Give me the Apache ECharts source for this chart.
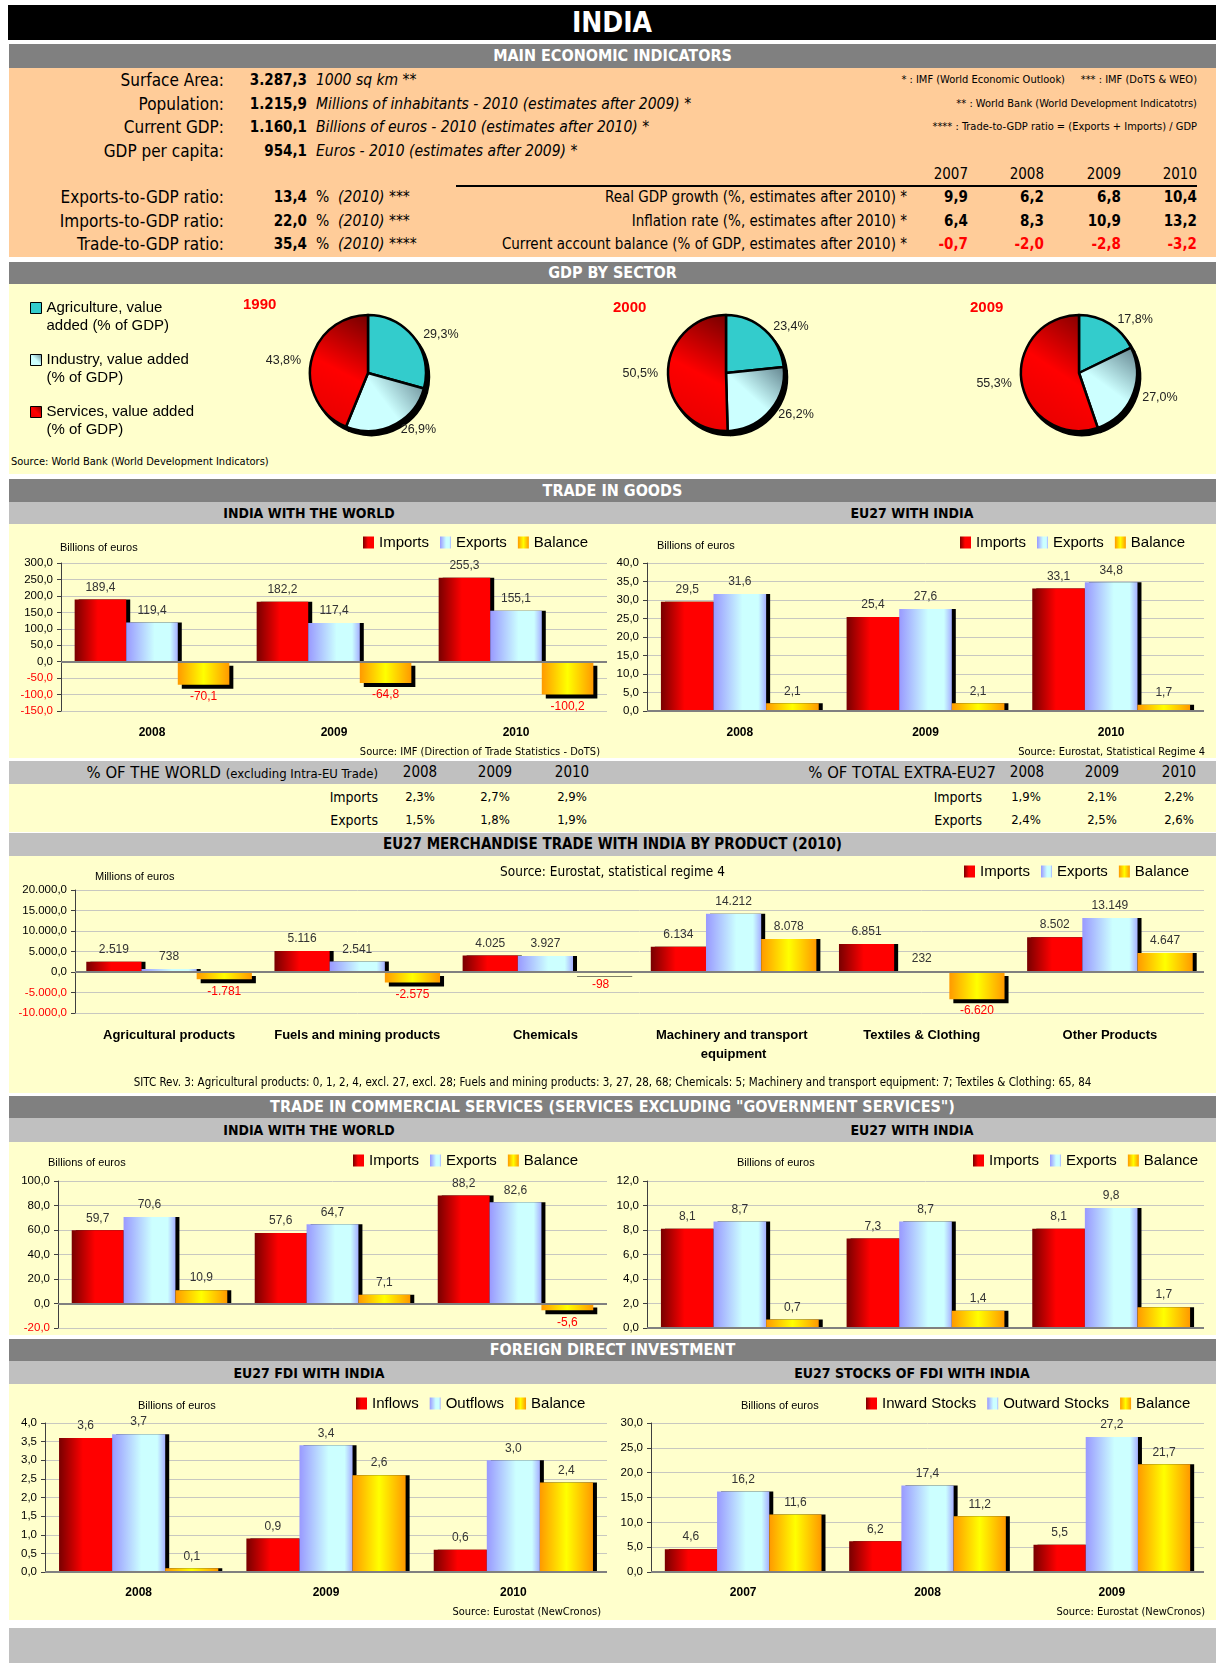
<!DOCTYPE html>
<html>
<head>
<meta charset="utf-8">
<title>India</title>
<script src="https://cdn.jsdelivr.net/npm/echarts@6.0.0/dist/echarts.min.js"></script>
<style>
  body { margin: 0; width: 1222px; height: 1663px; position: relative; overflow: hidden; background: #fff;
         font-family: "DejaVu Sans Condensed", "DejaVu Sans", sans-serif; color: #000; }
  div { position: absolute; white-space: nowrap; }
  .box { left: 9px; width: 1207px; }
  .dark { background: #808080; color: #fff; font-weight: bold; font-size: 16px; text-align: center; }
  .light { background: #c0c0c0; }
  .peach { background: #ffcc99; }
  .yellow { background: #ffffcc; }
  .lab { right: 998px; font-size: 17px; line-height: 22px; text-align: right; }
  .val { right: 915px; font-size: 15px; line-height: 22px; font-weight: bold; text-align: right; }
  .unit { left: 316px; font-size: 15.5px; line-height: 22px; font-style: italic; }
  .note { right: 25px; font-size: 11px; line-height: 22px; text-align: right; }
  .col { width: 60px; font-size: 15px; line-height: 22px; text-align: right; }
  .b { font-weight: bold; }
  .red { color: #ff0000; }
  .rlab { right: 315px; font-size: 15px; line-height: 22px; text-align: right; }
  .sub { font-weight: bold; font-size: 14px; text-align: center; line-height: 22px; width: 600px; }
  .tc { width: 60px; text-align: center; line-height: 22px; }
</style>
</head>
<body>
<div style="left:8px;top:5px;width:1208px;height:35px;background:#000;color:#fff;font-weight:bold;font-size:28px;line-height:35px;text-align:center">INDIA</div>

<div class="box dark" style="top:44px;height:24px;line-height:24px">MAIN ECONOMIC INDICATORS</div>
<div class="box peach" style="top:68px;height:189px"></div>

<div class="lab" style="top:69px">Surface Area:</div>
<div class="lab" style="top:93px">Population:</div>
<div class="lab" style="top:116px">Current GDP:</div>
<div class="lab" style="top:140px">GDP per capita:</div>
<div class="lab" style="top:186px">Exports-to-GDP ratio:</div>
<div class="lab" style="top:210px">Imports-to-GDP ratio:</div>
<div class="lab" style="top:233px">Trade-to-GDP ratio:</div>

<div class="val" style="top:69px">3.287,3</div>
<div class="val" style="top:93px">1.215,9</div>
<div class="val" style="top:116px">1.160,1</div>
<div class="val" style="top:140px">954,1</div>
<div class="val" style="top:186px">13,4</div>
<div class="val" style="top:210px">22,0</div>
<div class="val" style="top:233px">35,4</div>

<div class="unit" style="top:69px">1000 sq km **</div>
<div class="unit" style="top:93px">Millions of inhabitants - 2010 (estimates after 2009) *</div>
<div class="unit" style="top:116px">Billions of euros - 2010 (estimates after 2010) *</div>
<div class="unit" style="top:140px">Euros - 2010 (estimates after 2009) *</div>
<div class="unit" style="top:186px"><span style="font-style:normal">%</span>&nbsp; (2010) ***</div>
<div class="unit" style="top:210px"><span style="font-style:normal">%</span>&nbsp; (2010) ***</div>
<div class="unit" style="top:233px"><span style="font-style:normal">%</span>&nbsp; (2010) ****</div>

<div class="note" style="top:69px">* : IMF (World Economic Outlook) &nbsp;&nbsp;&nbsp; *** : IMF (DoTS &amp; WEO)</div>
<div class="note" style="top:93px">** : World Bank (World Development Indicatotrs)</div>
<div class="note" style="top:116px">**** : Trade-to-GDP ratio = (Exports + Imports) / GDP</div>

<div class="col" style="left:908px;top:163px">2007</div>
<div class="col" style="left:984px;top:163px">2008</div>
<div class="col" style="left:1061px;top:163px">2009</div>
<div class="col" style="left:1137px;top:163px">2010</div>
<div style="left:456px;top:185px;width:741px;height:2px;background:#000"></div>

<div class="rlab" style="top:186px">Real GDP growth (%, estimates after 2010) *</div>
<div class="rlab" style="top:210px">Inflation rate (%, estimates after 2010) *</div>
<div class="rlab" style="top:233px">Current account balance (% of GDP, estimates after 2010) *</div>

<div class="col b" style="left:908px;top:186px">9,9</div>
<div class="col b" style="left:984px;top:186px">6,2</div>
<div class="col b" style="left:1061px;top:186px">6,8</div>
<div class="col b" style="left:1137px;top:186px">10,4</div>
<div class="col b" style="left:908px;top:210px">6,4</div>
<div class="col b" style="left:984px;top:210px">8,3</div>
<div class="col b" style="left:1061px;top:210px">10,9</div>
<div class="col b" style="left:1137px;top:210px">13,2</div>
<div class="col b red" style="left:908px;top:233px">-0,7</div>
<div class="col b red" style="left:984px;top:233px">-2,0</div>
<div class="col b red" style="left:1061px;top:233px">-2,8</div>
<div class="col b red" style="left:1137px;top:233px">-3,2</div>

<div class="box dark" style="top:262px;height:22px;line-height:22px">GDP BY SECTOR</div>
<div class="box yellow" style="top:284px;height:190px"></div>
<div style="left:11px;top:455px;font-size:11px;line-height:14px">Source: World Bank (World Development Indicators)</div>

<div class="box dark" style="top:479px;height:23px;line-height:23px">TRADE IN GOODS</div>
<div class="box light" style="top:502px;height:22px"></div>
<div class="sub" style="left:9px;top:502px">INDIA WITH THE WORLD</div>
<div class="sub" style="left:612px;top:502px">EU27 WITH INDIA</div>
<div class="box yellow" style="top:524px;height:234px"></div>

<div class="box light" style="top:761px;height:23px"></div>
<div style="right:844px;top:761px;line-height:23px;font-size:16.5px">% OF THE WORLD <span style="font-size:13px">(excluding Intra-EU Trade)</span></div>
<div class="tc" style="left:390px;top:761px;font-size:15px">2008</div>
<div class="tc" style="left:465px;top:761px;font-size:15px">2009</div>
<div class="tc" style="left:542px;top:761px;font-size:15px">2010</div>
<div style="right:226px;top:761px;line-height:23px;font-size:16.5px">% OF TOTAL EXTRA-EU27</div>
<div class="tc" style="left:997px;top:761px;font-size:15px">2008</div>
<div class="tc" style="left:1072px;top:761px;font-size:15px">2009</div>
<div class="tc" style="left:1149px;top:761px;font-size:15px">2010</div>
<div class="box yellow" style="top:784px;height:48px"></div>
<div style="right:844px;top:786px;line-height:22px;font-size:14px">Imports</div>
<div style="right:844px;top:809px;line-height:22px;font-size:14px">Exports</div>
<div class="tc" style="left:390px;top:786px;font-size:13px">2,3%</div>
<div class="tc" style="left:465px;top:786px;font-size:13px">2,7%</div>
<div class="tc" style="left:542px;top:786px;font-size:13px">2,9%</div>
<div class="tc" style="left:390px;top:809px;font-size:13px">1,5%</div>
<div class="tc" style="left:465px;top:809px;font-size:13px">1,8%</div>
<div class="tc" style="left:542px;top:809px;font-size:13px">1,9%</div>
<div style="right:240px;top:786px;line-height:22px;font-size:14px">Imports</div>
<div style="right:240px;top:809px;line-height:22px;font-size:14px">Exports</div>
<div class="tc" style="left:996px;top:786px;font-size:13px">1,9%</div>
<div class="tc" style="left:1072px;top:786px;font-size:13px">2,1%</div>
<div class="tc" style="left:1149px;top:786px;font-size:13px">2,2%</div>
<div class="tc" style="left:996px;top:809px;font-size:13px">2,4%</div>
<div class="tc" style="left:1072px;top:809px;font-size:13px">2,5%</div>
<div class="tc" style="left:1149px;top:809px;font-size:13px">2,6%</div>

<div class="box light" style="top:833px;height:23px;line-height:23px;text-align:center;font-weight:bold;font-size:15px">EU27 MERCHANDISE TRADE WITH INDIA BY PRODUCT (2010)</div>
<div class="box yellow" style="top:856px;height:237px"></div>

<div class="box dark" style="top:1096px;height:22px;line-height:22px">TRADE IN COMMERCIAL SERVICES (SERVICES EXCLUDING "GOVERNMENT SERVICES")</div>
<div class="box light" style="top:1118px;height:24px"></div>
<div class="sub" style="left:9px;top:1119px">INDIA WITH THE WORLD</div>
<div class="sub" style="left:612px;top:1119px">EU27 WITH INDIA</div>
<div class="box yellow" style="top:1142px;height:193px"></div>

<div class="box dark" style="top:1339px;height:22px;line-height:22px">FOREIGN DIRECT INVESTMENT</div>
<div class="box light" style="top:1361px;height:23px"></div>
<div class="sub" style="left:9px;top:1362px">EU27 FDI WITH INDIA</div>
<div class="sub" style="left:612px;top:1362px">EU27 STOCKS OF FDI WITH INDIA</div>
<div class="box yellow" style="top:1384px;height:236px"></div>
<div class="box light" style="top:1628px;height:35px"></div>

<div id="pies" style="left:9px;top:274px;width:1207px;height:200px"></div>
<div id="goodsWorld" style="left:9px;top:524px;width:603px;height:234px"></div>
<div id="goodsEu" style="left:612px;top:524px;width:604px;height:234px"></div>
<div id="products" style="left:9px;top:856px;width:1207px;height:237px"></div>
<div id="servWorld" style="left:9px;top:1142px;width:603px;height:193px"></div>
<div id="servEu" style="left:612px;top:1142px;width:604px;height:193px"></div>
<div id="fdi" style="left:9px;top:1384px;width:603px;height:236px"></div>
<div id="stocks" style="left:612px;top:1384px;width:604px;height:236px"></div>

<script>
// values
const sectors = ['Agriculture, value added (% of GDP)', 'Industry, value added (% of GDP)', 'Services, value added (% of GDP)']
const pieYears = ['1990', '2000', '2009']
const share1990 = [29.3, 26.9, 43.8]
const share2000 = [23.4, 26.2, 50.5]
const share2009 = [17.8, 27.0, 55.3]

const tradeNames = ['Imports', 'Exports', 'Balance']
const goodsYears = ['2008', '2009', '2010']
const goodsWorldImports = [189.4, 182.2, 255.3]
const goodsWorldExports = [119.4, 117.4, 155.1]
const goodsWorldBalance = [-70.1, -64.8, -100.2]
const goodsEuImports = [29.5, 25.4, 33.1]
const goodsEuExports = [31.6, 27.6, 34.8]
const goodsEuBalance = [2.1, 2.1, 1.7]

const products = ['Agricultural products', 'Fuels and mining products', 'Chemicals', 'Machinery and transport equipment', 'Textiles & Clothing', 'Other Products']
const productImports = [2519, 5116, 4025, 6134, 6851, 8502]
const productExports = [738, 2541, 3927, 14212, 232, 13149]
const productBalance = [-1781, -2575, -98, 8078, -6620, 4647]

const servYears = ['2008', '2009', '2010']
const servWorldImports = [59.7, 57.6, 88.2]
const servWorldExports = [70.6, 64.7, 82.6]
const servWorldBalance = [10.9, 7.1, -5.6]
const servEuImports = [8.1, 7.3, 8.1]
const servEuExports = [8.7, 8.7, 9.8]
const servEuBalance = [0.7, 1.4, 1.7]

const fdiNames = ['Inflows', 'Outflows', 'Balance']
const fdiYears = ['2008', '2009', '2010']
const fdiInflows = [3.6, 0.9, 0.6]
const fdiOutflows = [3.7, 3.4, 3.0]
const fdiBalance = [0.1, 2.6, 2.4]

const stockNames = ['Inward Stocks', 'Outward Stocks', 'Balance']
const stockYears = ['2007', '2008', '2009']
const stockInward = [4.6, 6.2, 5.5]
const stockOutward = [16.2, 17.4, 27.2]
const stockBalance = [11.6, 11.2, 21.7]

// 1.234,5 style numbers
function fmt(v, dec) {
	const parts = Math.abs(v).toFixed(dec).split('.')
	const int = parts[0].replace(/\B(?=(\d{3})+(?!\d))/g, '.')
	return (v < 0 ? '-' : '') + int + (dec ? ',' + parts[1] : '')
}

function lin(x, y, x2, y2, stops) {
	return { type: 'linear', x: x, y: y, x2: x2, y2: y2,
		colorStops: stops.map(s => ({ offset: s[0], color: s[1] })) }
}

const barColors = [
	lin(0, 0, 1, 0, [[0, '#780000'], [0.45, '#ff0000'], [1, '#ff0000']]),
	lin(0, 0, 1, 0, [[0, '#9999ff'], [0.55, '#ccffff'], [0.85, '#ccffff'], [1, '#a6b0ff']]),
	lin(0, 0, 1, 0, [[0, '#ff9900'], [0.5, '#ffff00'], [1, '#ff9900']])
]

function makeBars(id, o) {
	const chart = echarts.init(document.getElementById(id))
	const titles = [{
		text: o.unit, left: o.unitLeft, top: o.unitTop,
		textStyle: { fontSize: 11, fontWeight: 'normal', color: '#000', fontFamily: 'Liberation Sans' }
	}]
	if (o.source) {
		titles.push({
			text: o.source, top: o.sourceTop, left: o.sourceLeft, right: o.sourceRight,
			textStyle: { fontSize: o.sourceSize || 11, fontWeight: 'normal', color: '#000', fontFamily: 'DejaVu Sans Condensed' }
		})
	}
	if (o.note) {
		titles.push({
			text: o.note, top: o.noteTop, left: 'center',
			textStyle: { fontSize: 11.5, fontWeight: 'normal', color: '#000', fontFamily: 'DejaVu Sans Condensed' }
		})
	}
	chart.setOption({
		animation: false,
		textStyle: { fontFamily: 'Liberation Sans' },
		title: titles,
		legend: {
			left: o.legendLeft, top: o.legendTop, padding: 0, itemGap: 11, icon: 'rect',
			itemWidth: 11, itemHeight: 12, selectedMode: false,
			textStyle: { fontSize: 15, color: '#000' },
			itemStyle: { shadowColor: 'rgba(0,0,0,0)', shadowOffsetX: 0, shadowOffsetY: 0, shadowBlur: 0 }
		},
		grid: Object.assign({ outerBoundsMode: 'none', containLabel: false }, o.grid),
		xAxis: {
			type: 'category', data: o.cats,
			axisLine: { show: false, onZero: false },
			axisTick: { show: false },
			axisLabel: o.showCats === false ? { show: false } : {
				interval: 0, fontSize: o.catSize || 12, fontWeight: 'bold', color: '#000',
				margin: o.catMargin || 12, width: o.catWidth || 170, overflow: 'break', lineHeight: 19
			}
		},
		yAxis: {
			type: 'value', min: o.min, max: o.max, interval: o.interval,
			axisLine: { show: true, lineStyle: { color: '#404040', width: 1 } },
			axisTick: { show: true, length: 4, lineStyle: { color: '#404040' } },
			splitLine: { lineStyle: { color: '#c8c8c0', width: 1 } },
			axisLabel: {
				fontSize: 11.5, color: '#000', margin: 8,
				formatter: v => v < 0 ? '{n|' + fmt(v, 1) + '}' : fmt(v, 1),
				rich: { n: { color: '#ff0000', fontSize: 11.5 } }
			}
		},
		series: o.values.map((vals, i) => ({
			name: o.names[i], type: 'bar', barGap: '0%', barCategoryGap: o.gap || '15%',
			// negative bars: label under the bar and shadow pushed down
			data: vals.map(v => v < 0 ? {
				value: v,
				label: { position: 'bottom', color: '#ff0000' },
				itemStyle: { shadowOffsetY: 4 }
			} : v),
			itemStyle: { color: barColors[i], shadowColor: '#000', shadowOffsetX: 4, shadowOffsetY: 0, shadowBlur: 0 },
			label: { show: true, position: 'top', distance: 6, fontSize: 12, color: '#333',
				formatter: p => fmt(p.value, o.dec) },
			emphasis: { disabled: true },
			markLine: i === 2 ? {
				silent: true, symbol: ['none', 'none'], label: { show: false },
				lineStyle: { color: '#808080', width: 2, type: 'solid' },
				data: [{ yAxis: 0 }]
			} : undefined
		}))
	})
}

// GDP by sector pies
const pieChart = echarts.init(document.getElementById('pies'))
const sectorColors = [
	'#33cccc',
	lin(0, 1, 1, 0, [[0, '#ccffff'], [0.5, '#ccffff'], [1, '#5f7f8a']]),
	lin(0, 1, 1, 0, [[0, '#e00000'], [0.5, '#ff0000'], [1, '#700000']])
]
const pieShares = [share1990, share2000, share2009]
const pieCenters = [[359, 99], [717, 99], [1070, 99]]
const pieTitlePos = [[229, 18], [599, 21], [956, 21]]
const pieSeries = []
pieShares.forEach((vals, i) => {
	pieSeries.push({
		type: 'pie', center: pieCenters[i], radius: 58, startAngle: 90, clockwise: true, z: 3,
		data: vals.map((v, j) => ({ name: sectors[j], value: v, itemStyle: { color: sectorColors[j] } })),
		itemStyle: { borderColor: '#000', borderWidth: 2.5 },
		label: { show: true, position: 'outside', formatter: p => fmt(p.value, 1) + '%', fontSize: 12.5, color: '#222' },
		labelLine: { show: false, length: 5, length2: 0 },
		emphasis: { disabled: true }
	})
})
// dark rim under each pie (same shares, drawn black and offset)
pieShares.forEach((vals, i) => {
	pieSeries.push({
		type: 'pie', center: [pieCenters[i][0] + 3, pieCenters[i][1] + 4], radius: 58,
		startAngle: 90, clockwise: true, z: 1, silent: true,
		data: vals.map((v, j) => ({ name: sectors[j], value: v })),
		itemStyle: { color: '#000', borderColor: '#000', borderWidth: 2.5 },
		label: { show: false }, labelLine: { show: false },
		emphasis: { disabled: true }
	})
})
pieChart.setOption({
	animation: false,
	textStyle: { fontFamily: 'Liberation Sans' },
	title: pieYears.map((y, i) => ({
		text: y, left: pieTitlePos[i][0], top: pieTitlePos[i][1],
		textStyle: { color: '#ff0000', fontSize: 15, fontWeight: 'bold' }
	})),
	legend: {
		orient: 'vertical', left: 21, top: 7, padding: 0, itemGap: -2, icon: 'rect',
		itemWidth: 11, itemHeight: 11, selectedMode: false, data: sectors,
		// empty first line keeps the square beside the first text line
		formatter: name => ' \n' + name.replace('Agriculture, value ', 'Agriculture, value\n').replace('value added (', 'value added\n('),
		textStyle: { fontSize: 15, lineHeight: 18, color: '#000' },
		itemStyle: { borderColor: '#000', borderWidth: 1 }
	},
	series: pieSeries
})

makeBars('goodsWorld', {
	cats: goodsYears, names: tradeNames, dec: 1,
	values: [goodsWorldImports, goodsWorldExports, goodsWorldBalance],
	min: -150, max: 300, interval: 50,
	grid: { left: 52, right: 5, top: 39, bottom: 47 },
	legendLeft: 354, legendTop: 11,
	unit: 'Billions of euros', unitLeft: 46, unitTop: 13,
	source: 'Source: IMF (Direction of Trade Statistics - DoTS)', sourceRight: 7, sourceTop: 218
})

makeBars('goodsEu', {
	cats: goodsYears, names: tradeNames, dec: 1,
	values: [goodsEuImports, goodsEuExports, goodsEuBalance],
	min: 0, max: 40, interval: 5,
	grid: { left: 35, right: 12, top: 39, bottom: 47 },
	legendLeft: 348, legendTop: 11,
	unit: 'Billions of euros', unitLeft: 40, unitTop: 11,
	source: 'Source: Eurostat, Statistical Regime 4', sourceRight: 6, sourceTop: 218
})

makeBars('products', {
	cats: products, names: tradeNames, dec: 0,
	values: [productImports, productExports, productBalance],
	min: -10000, max: 20000, interval: 5000, gap: '12%',
	grid: { left: 66, right: 12, top: 34, bottom: 80 },
	legendLeft: 955, legendTop: 8,
	unit: 'Millions of euros', unitLeft: 81, unitTop: 10,
	source: 'Source: Eurostat, statistical regime 4', sourceLeft: 'center', sourceTop: 4, sourceSize: 13.5,
	note: 'SITC Rev. 3: Agricultural products: 0, 1, 2, 4, excl. 27, excl. 28; Fuels and mining products: 3, 27, 28, 68; Chemicals: 5; Machinery and transport equipment: 7; Textiles & Clothing: 65, 84',
	noteTop: 216, catSize: 13, catMargin: 13, catWidth: 182
})

makeBars('servWorld', {
	cats: servYears, names: tradeNames, dec: 1, showCats: false,
	values: [servWorldImports, servWorldExports, servWorldBalance],
	min: -20, max: 100, interval: 20,
	grid: { left: 49, right: 5, top: 39, bottom: 7 },
	legendLeft: 344, legendTop: 11,
	unit: 'Billions of euros', unitLeft: 34, unitTop: 10
})

makeBars('servEu', {
	cats: servYears, names: tradeNames, dec: 1, showCats: false,
	values: [servEuImports, servEuExports, servEuBalance],
	min: 0, max: 12, interval: 2,
	grid: { left: 35, right: 12, top: 39, bottom: 7 },
	legendLeft: 361, legendTop: 11,
	unit: 'Billions of euros', unitLeft: 120, unitTop: 10
})

makeBars('fdi', {
	cats: fdiYears, names: fdiNames, dec: 1,
	values: [fdiInflows, fdiOutflows, fdiBalance],
	min: 0, max: 4, interval: 0.5,
	grid: { left: 36, right: 5, top: 39, bottom: 48 },
	legendLeft: 347, legendTop: 12, catMargin: 11,
	unit: 'Billions of euros', unitLeft: 124, unitTop: 11,
	source: 'Source: Eurostat (NewCronos)', sourceRight: 6, sourceTop: 218
})

makeBars('stocks', {
	cats: stockYears, names: stockNames, dec: 1,
	values: [stockInward, stockOutward, stockBalance],
	min: 0, max: 30, interval: 5,
	grid: { left: 39, right: 12, top: 39, bottom: 48 },
	legendLeft: 254, legendTop: 12, catMargin: 11,
	unit: 'Billions of euros', unitLeft: 124, unitTop: 11,
	source: 'Source: Eurostat (NewCronos)', sourceRight: 6, sourceTop: 218
})
</script>
</body>
</html>
